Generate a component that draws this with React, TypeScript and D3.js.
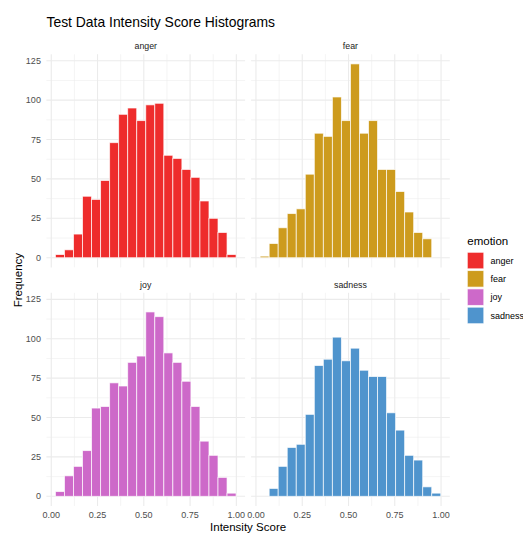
import React from "react";
import * as d3 from "d3";

// Histogram counts per emotion, 20 equal-width bins over the intensity score
const emotions = ["anger", "fear", "joy", "sadness"];
const colors = ["#EE2C2C", "#CD9B1D", "#CD69C9", "#4F94CD"];
const angerCounts = [2, 5, 15, 39, 37, 49, 73, 91, 95, 87, 97, 98, 65, 63, 56, 51, 36, 25, 16, 2];
const fearCounts = [1, 9, 19, 28, 31, 53, 79, 77, 102, 87, 123, 79, 87, 56, 56, 42, 29, 16, 12, 0];
const joyCounts = [3, 13, 19, 29, 56, 57, 72, 70, 85, 89, 117, 114, 91, 85, 73, 57, 35, 26, 12, 2];
const sadnessCounts = [0, 5, 19, 31, 33, 52, 83, 87, 101, 86, 94, 80, 76, 76, 53, 42, 26, 23, 6, 2];
const BIN_START = 0.0225;
const BIN_WIDTH = 0.0488;
const xTicks = [0, 0.25, 0.5, 0.75, 1];
const xMinor = [0.125, 0.375, 0.625, 0.875];
const yTicks = [0, 25, 50, 75, 100, 125];
const yMinor = [12.5, 37.5, 62.5, 87.5, 112.5];

const countsByEmotion = [angerCounts, fearCounts, joyCounts, sadnessCounts];

const W = 523;
const H = 534;
const FONT = "'Liberation Sans', Arial, Helvetica, sans-serif";

export default function App() {
  const nBins = angerCounts.length;
  const xLo = BIN_START;
  const xHi = BIN_START + nBins * BIN_WIDTH;
  const xPad = (xHi - xLo) * 0.05;
  const yMax = d3.max(countsByEmotion.flat()) as number;
  const yPad = yMax * 0.05;

  const panelW = 198.7;
  const panelH = 213.2;
  const colX = [46.4, 251.1];
  const rowY = [54.2, 292.8];

  const x = d3.scaleLinear().domain([xLo - xPad, xHi + xPad]).range([0, panelW]);
  const y = d3.scaleLinear().domain([-yPad, yMax + yPad]).range([panelH, 0]);

  const grid = "#EBEBEB";

  const panels = emotions.map((emo, k) => {
    const col = k % 2;
    const row = Math.floor(k / 2);
    const px = colX[col];
    const py = rowY[row];
    const counts = countsByEmotion[k];
    return (
      <g key={emo} transform={`translate(${px},${py})`}>
        {yMinor.map((t) => (
          <line key={"ym" + t} x1={0} x2={panelW} y1={y(t)} y2={y(t)} stroke={grid} strokeWidth={0.55} />
        ))}
        {xMinor.map((t) => (
          <line key={"xm" + t} y1={0} y2={panelH} x1={x(t)} x2={x(t)} stroke={grid} strokeWidth={0.55} />
        ))}
        {yTicks.map((t) => (
          <line key={"yM" + t} x1={0} x2={panelW} y1={y(t)} y2={y(t)} stroke={grid} strokeWidth={1.1} />
        ))}
        {xTicks.map((t) => (
          <line key={"xM" + t} y1={0} y2={panelH} x1={x(t)} x2={x(t)} stroke={grid} strokeWidth={1.1} />
        ))}
        {counts.map((c, i) =>
          c > 0 ? (
            <rect
              key={i}
              x={x(BIN_START + i * BIN_WIDTH)}
              width={x(BIN_START + (i + 1) * BIN_WIDTH) - x(BIN_START + i * BIN_WIDTH)}
              y={y(c)}
              height={y(0) - y(c)}
              fill={colors[k]}
              stroke="#FFFFFF"
              strokeOpacity={0.75}
              strokeWidth={0.9}
            />
          ) : null
        )}
        <text
          x={panelW / 2}
          y={-5.2}
          textAnchor="middle"
          fontSize={8.8}
          fill="#1A1A1A"
          fontFamily={FONT}
        >
          {emo}
        </text>
        {col === 0 &&
          yTicks.map((t) => (
            <text
              key={"yl" + t}
              x={-5.5}
              y={y(t)}
              dy="0.35em"
              textAnchor="end"
              fontSize={9}
              fill="#4D4D4D"
              fontFamily={FONT}
            >
              {t}
            </text>
          ))}
        {row === 1 &&
          xTicks.map((t) => (
            <text
              key={"xl" + t}
              x={x(t)}
              y={panelH + 12.5}
              textAnchor="middle"
              fontSize={9}
              fill="#4D4D4D"
              fontFamily={FONT}
            >
              {t.toFixed(2)}
            </text>
          ))}
      </g>
    );
  });

  return (
    <svg width={W} height={H} style={{ position: "absolute", left: 0, top: 0 }}>
      <rect width={W} height={H} fill="#FFFFFF" />
      <text x={46.5} y={26.5} fontSize={13.9} fill="#000000" fontFamily={FONT}>
        Test Data Intensity Score Histograms
      </text>
      {panels}
      <text
        x={(colX[0] + colX[1] + panelW) / 2}
        y={531}
        textAnchor="middle"
        fontSize={11.5}
        fill="#000000"
        fontFamily={FONT}
      >
        Intensity Score
      </text>
      <text
        transform={`translate(22.3,${(rowY[0] + rowY[1] + panelH) / 2}) rotate(-90)`}
        textAnchor="middle"
        fontSize={11.5}
        fill="#000000"
        fontFamily={FONT}
      >
        Frequency
      </text>
      <g transform="translate(467.3,0)">
        <text x={0} y={245} fontSize={11.5} fill="#000000" fontFamily={FONT}>
          emotion
        </text>
        {emotions.map((emo, k) => (
          <g key={emo} transform={`translate(0,${252.3 + k * 18.3})`}>
            <rect x={0} y={0} width={16.5} height={16.5} fill={colors[k]} stroke="#FFFFFF" strokeOpacity={0.75} strokeWidth={0.9} />
            <text x={23.3} y={8.25} dy="0.35em" fontSize={9} fill="#000000" fontFamily={FONT}>
              {emo}
            </text>
          </g>
        ))}
      </g>
    </svg>
  );
}
